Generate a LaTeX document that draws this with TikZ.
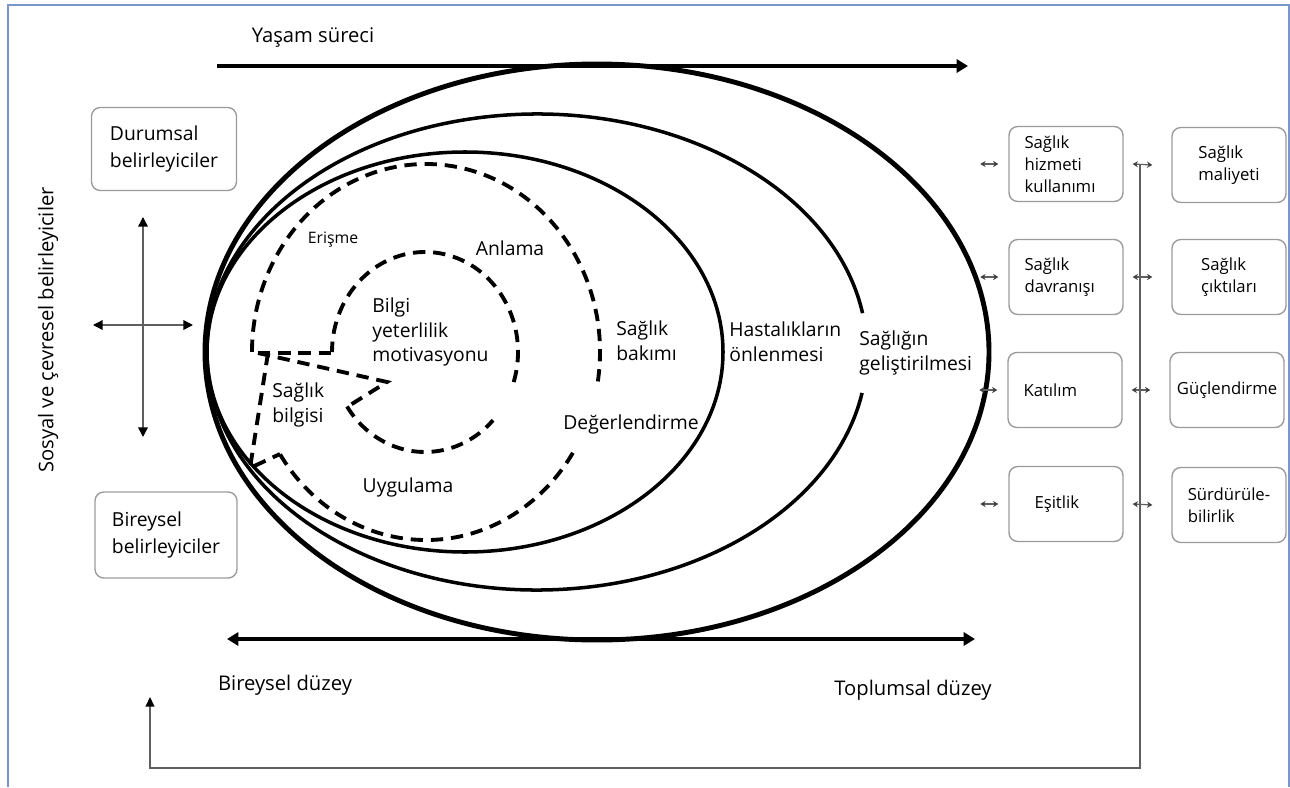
\documentclass[tikz,border=0pt]{standalone}
\usepackage{fontspec}
\setmainfont{Open Sans}
\usetikzlibrary{arrows.meta,positioning,calc}
\definecolor{frameblue}{RGB}{120,152,204}
\definecolor{boxgray}{RGB}{155,155,155}
\definecolor{linegray}{RGB}{95,95,95}

\begin{document}
\begin{tikzpicture}[x=0.02cm,y=-0.02cm,
	ring/.style={line width=2pt},
	dashring/.style={line width=2.2pt,dash pattern=on 7pt off 4.5pt},
	axisline/.style={line width=2.1pt},
	lbox/.style={draw=boxgray,line width=0.8pt,rounded corners=5pt,align=left,font=\fontsize{11}{15}\selectfont,minimum width=2.9cm,minimum height=1.66cm},
	rbox/.style={draw=boxgray,line width=0.8pt,rounded corners=5pt,align=left,font=\fontsize{9.5}{12.5}\selectfont,minimum width=2.28cm,minimum height=1.5cm},
	lcbox/.style={rbox,text width=1.66cm,inner xsep=0.2cm},
	lab/.style={align=left,font=\fontsize{11}{14.2}\selectfont,inner sep=0pt},
	biglab/.style={font=\fontsize{11.5}{14}\selectfont,inner sep=0pt},
	crossarrow/.style={linegray,line width=0.8pt,{Triangle[length=5.5pt,width=5.5pt,color=black]}-{Triangle[length=5.5pt,width=5.5pt,color=black]}},
	tinyarrow/.style={linegray,line width=0.7pt,{Stealth[length=3pt,width=3.5pt,color=black!75]}-{Stealth[length=3pt,width=3.5pt,color=black!75]}}]
	\useasboundingbox (0,0) rectangle (1290,787);
	\draw[frameblue,line width=1pt] (8,787) -- (8,5) -- (1289,5) -- (1289,787);

	\draw[line width=2.8pt] (597,352) ellipse [x radius=392, y radius=288];
	\draw[ring] (537,352) ++(-9.4:330 and 238) arc[start angle=-9.4, end angle=-350.1, x radius=330, y radius=238];
	\draw[ring] (465,352) ellipse [x radius=258, y radius=200];

	\draw[dashring] (426,352) ++(9:174 and 188) arc[start angle=9, end angle=-180, x radius=174, y radius=188];
	\draw[dashring] (426,352) ++(147:174 and 188) arc[start angle=147, end angle=30, x radius=174, y radius=188];
	\draw[dashring] (425,352) ++(17.5:93 and 100) arc[start angle=17.5, end angle=-180, x radius=93, y radius=100];
	\draw[dashring] (425,352) ++(147:93 and 100) arc[start angle=147, end angle=43, x radius=93, y radius=100];
	\draw[dashring] (258,353) -- (333,353);
	\draw[dashring] (258,353) -- (387,382) -- (347,407);
	\draw[dashring] (268,353) -- (250,468) -- (280,454);

	\coordinate (topL) at (217,66);
	\coordinate (topR) at (968,66);
	\coordinate (botL) at (227,639);
	\coordinate (botR) at (975,639);
	\draw[axisline,-{Triangle[length=6.5pt,width=7.5pt]}] (topL) -- (topR);
	\draw[axisline,{Triangle[length=6.5pt,width=7.5pt]}-{Triangle[length=6.5pt,width=7.5pt]}] (botL) -- (botR);

	\node[biglab] (yasam) at (313,38) {Yaşam süreci};
	\node[biglab] (bireyseldz) at (285,685) {Bireysel düzey};
	\node[biglab] (toplumsaldz) at (913,690) {Toplumsal düzey};
	\node[biglab,rotate=90] (sosyal) at (48,330) {Sosyal ve çevresel belirleyiciler};

	\node[lab,font=\fontsize{9}{11}\selectfont] (erisme) at (333,240) {Erişme};
	\node[lab] (anlama) at (510,248) {Anlama};
	\node[lab,anchor=west] (bilgi) at (372,332) {Bilgi\\yeterlilik\\motivasyonu};
	\node[lab,anchor=west] (sbilgisi) at (272,405) {Sağlık\\bilgisi};
	\node[lab] (uygulama) at (408,487) {Uygulama};
	\node[lab,anchor=west] (sbakimi) at (616,341) {Sağlık\\bakımı};
	\node[lab] (degerlendirme) at (631,424) {Değerlendirme};
	\node[lab,anchor=west] (hastalik) at (729,342) {Hastalıkların\\önlenmesi};
	\node[lab,anchor=west] (gelistirme) at (859,353) {Sağlığın\\geliştirilmesi};

	\node[lbox] (durumsal) at (164,149) {Durumsal\\belirleyiciler};
	\node[lbox,minimum width=2.84cm,minimum height=1.72cm] (bireysel) at (166,535) {Bireysel\\belirleyiciler};

	\coordinate (crossN) at (143,217);
	\coordinate (crossS) at (143,437);
	\coordinate (crossW) at (93,325);
	\coordinate (crossE) at (193,325);
	\draw[crossarrow] (crossN) -- (crossS);
	\draw[crossarrow] (crossW) -- (crossE);

	\node[lcbox] (hizmet) at (1066,164) {Sağlık\\hizmeti\\kullanımı};
	\node[lcbox] (davranis) at (1066,277) {Sağlık\\davranışı};
	\node[lcbox] (katilim) at (1065,390) {Katılım};
	\node[lcbox] (esitlik) at (1066,504) {\hspace{0.2cm}Eşitlik};
	\node[rbox] (maliyet) at (1229,165) {Sağlık\\maliyeti};
	\node[rbox] (ciktilar) at (1229,277) {Sağlık\\çıktıları};
	\node[rbox] (guclendirme) at (1227,390) {Güçlendirme};
	\node[rbox] (surdurulebilir) at (1229,505) {Sürdürüle-\\bilirlik};

	\coordinate (fbTop) at (1140,165);
	\coordinate (fbBR) at (1140,768);
	\coordinate (fbBL) at (150,768);
	\coordinate (fbEnd) at (150,697);
	\draw[linegray,line width=0.9pt,-{Triangle[length=5.5pt,width=5pt,color=black]}] (fbTop) -- (fbBR) -- (fbBL) -- (fbEnd);

	\foreach \a/\b in {hizmet/maliyet,davranis/ciktilar,katilim/guclendirme,esitlik/surdurulebilir}{
		\draw[tinyarrow] ([xshift=-0.56cm]\a.west) -- ([xshift=-0.2cm]\a.west);
		\draw[tinyarrow] ([xshift=0.18cm]\a.east) -- ([xshift=-0.38cm]\b.west);
	}
\end{tikzpicture}
\end{document}
